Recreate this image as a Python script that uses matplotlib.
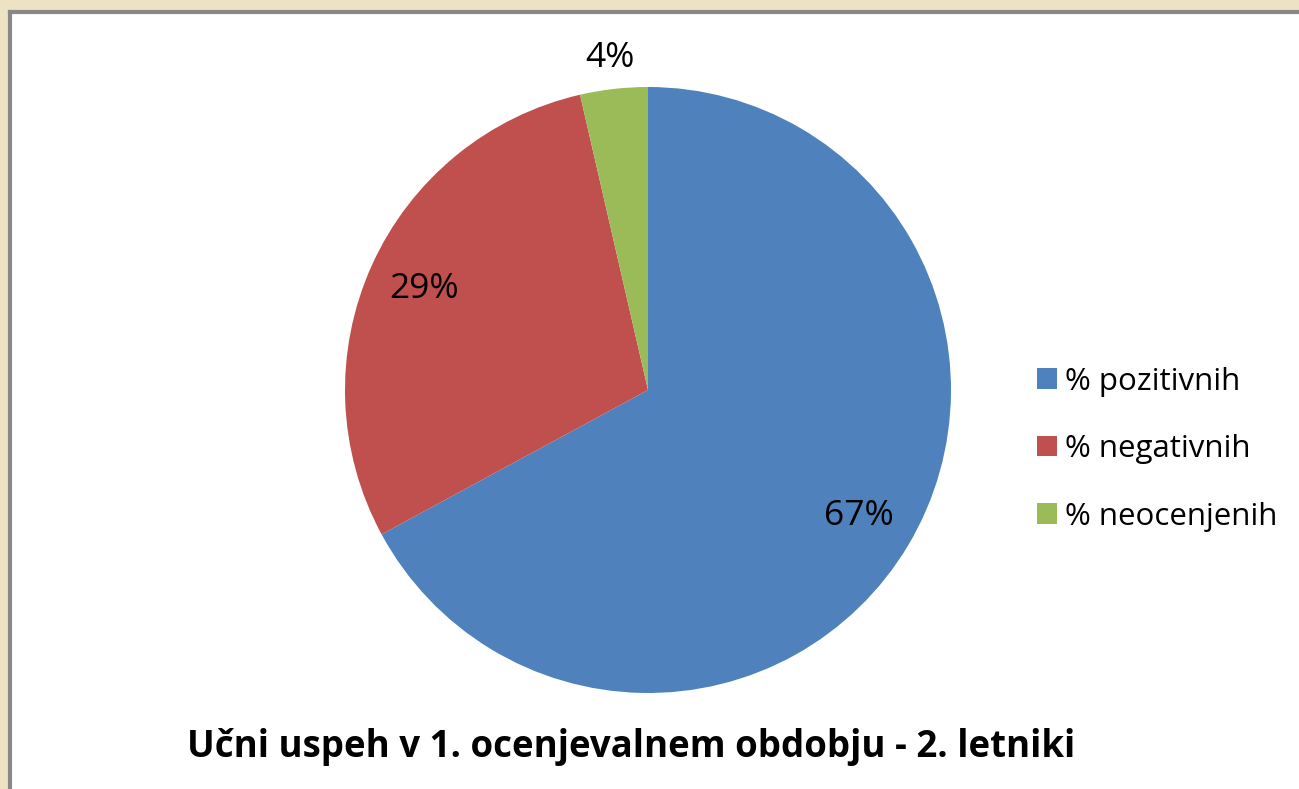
import matplotlib.pyplot as plt
from matplotlib.patches import Rectangle
from matplotlib.lines import Line2D

# podatki
kategorije = ["% pozitivnih", "% negativnih", "% neocenjenih"]
deleži = [67.1, 29.3, 3.6]
barve = ["#4F81BD", "#C0504D", "#9BBB59"]
naslov = "Učni uspeh v 1. ocenjevalnem obdobju - 2. letniki"

plt.rcParams["font.family"] = ["Open Sans", "DejaVu Sans"]

W, H = 1299, 789
fig = plt.figure(figsize=(W / 100, H / 100), dpi=100, facecolor="#EEE2C4")

# bela podlaga z robom
x0, y1 = 10 / W, 1 - 12 / H
fig.patches.append(Rectangle((x0, 0), 1 - x0, y1, transform=fig.transFigure,
                             facecolor="white", edgecolor="none", zorder=-2))
fig.lines.append(Line2D([x0, x0], [0, y1], transform=fig.transFigure,
                        color="#888888", lw=3, zorder=-1))
fig.lines.append(Line2D([x0, 1], [y1, y1], transform=fig.transFigure,
                        color="#888888", lw=3, zorder=-1))

# torta
r = 303
cx, cy = 648, 390
ax = fig.add_axes([(cx - r) / W, (H - cy - r) / H, 2 * r / W, 2 * r / H])
ax.set_zorder(2)
wedges, texts, autotexts = ax.pie(
    deleži, colors=barve, startangle=90, counterclock=False,
    autopct="%1.0f%%", pctdistance=0.81,
    wedgeprops=dict(linewidth=0),
    textprops=dict(fontsize=25.5, color="black"),
)
# majhen delež nad torto
x, y = autotexts[2].get_position()
autotexts[2].set_position((x * 1.36, y * 1.36))
ax.set_xlim(-1, 1)
ax.set_ylim(-1, 1)
ax.set_aspect("equal")

leg = fig.legend(wedges, kategorije, loc="center left",
                 bbox_to_anchor=(1009 / W, 1 - 449 / H), frameon=False,
                 fontsize=22.5, handlelength=0.65, handleheight=0.65,
                 handletextpad=0.25, labelspacing=1.2)
leg.set_zorder(3)

fig.text(631 / W, 1 - 747 / H, naslov, ha="center", va="center",
         fontsize=26.4, fontweight="bold", zorder=3)

fig.savefig("out.png", dpi=100, facecolor=fig.get_facecolor())
